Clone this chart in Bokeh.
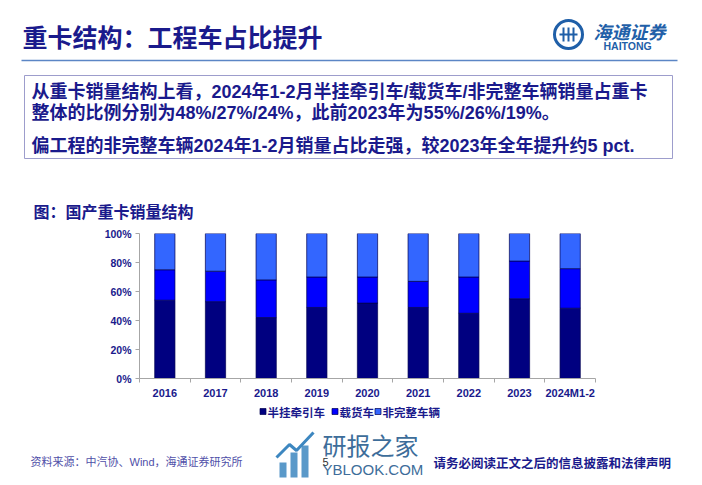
from bokeh.plotting import figure
from bokeh.models import (Range1d, LinearAxis, FixedTicker, PrintfTickFormatter, ColumnDataSource)
from bokeh.layouts import column
from bokeh.core.properties import value
from bokeh.embed import file_html
from bokeh.resources import INLINE

# ---------------- data ----------------
categories = ["2016", "2017", "2018", "2019", "2020", "2021", "2022", "2023", "2024M1-2"]
series_names = ["半挂牵引车", "载货车", "非完整车辆"]
tractor = [54, 53, 42, 49, 52, 49, 45, 55, 48]
cargo = [21, 21, 26, 21, 18, 18, 25, 26, 27]
incomplete = [25, 26, 32, 30, 30, 33, 30, 19, 24]
y_ticks = [0, 20, 40, 60, 80, 100]
bar_colors = ["#000080", "#0000FF", "#3366FF"]

title_text = "重卡结构：工程车占比提升"
box_lines = [
    "从重卡销量结构上看，2024年1-2月半挂牵引车/载货车/非完整车辆销量占重卡",
    "整体的比例分别为48%/27%/24%，此前2023年为55%/26%/19%。",
    "偏工程的非完整车辆2024年1-2月销量占比走强，较2023年全年提升约5 pct.",
]
caption_text = "图：国产重卡销量结构"
source_text = "资料来源：中汽协、Wind，海通证券研究所"
disclaimer_text = "请务必阅读正文之后的信息披露和法律声明"

NAVY = "#1a1a8c"
MIX = value("'Liberation Sans', 'Noto Sans CJK SC'")
CJK = value("'Noto Sans CJK SC'")
W = 700


def blank(h, top, bottom):
    p = figure(width=W, height=h, x_range=Range1d(0, W), y_range=Range1d(bottom, top),
               output_backend="svg", toolbar_location=None, min_border=0,
               x_axis_location=None, y_axis_location=None)
    p.grid.visible = False
    p.outline_line_color = None
    p.background_fill_color = "white"
    p.border_fill_color = "white"
    p.frame_align = False
    return p


# ---------------- header (page y 0..225) ----------------
top = blank(225, 0, 225)
top.text(x=[22], y=[35], text=[title_text], text_font=CJK, text_font_size="25px",
         text_font_style="bold", text_color=NAVY, text_baseline="middle")
# logo
top.scatter(x=[568], y=[34], size=28, marker="circle", fill_color=None,
            line_color="#1f5fa8", line_width=3)
top.segment(x0=[559, 563, 568, 573], y0=[34, 27, 27, 27], x1=[577, 563, 568, 573],
            y1=[34, 41, 41, 41], line_color="#1f5fa8", line_width=2)
top.text(x=[593], y=[30], text=["海通证券"], text_font=CJK, text_font_size="18px",
         text_font_style="bold italic", text_color="#1f5fa8", text_baseline="middle")
top.text(x=[603], y=[45], text=["HAITONG"], text_font=value("'Liberation Sans'"),
         text_font_size="10.5px", text_font_style="bold", text_color="#1f5fa8",
         text_baseline="middle")
top.segment(x0=[21], y0=[60], x1=[677], y1=[60], line_color="#5b86c5", line_width=1.5)
# text box
top.quad(left=[24], right=[672], top=[75], bottom=[158], fill_color=None,
         line_color="#9d9dcc", line_width=1)
top.text(x=[31, 31, 31], y=[91.5, 112, 145], text=box_lines, text_font=MIX,
         text_font_size="18px", text_font_style="bold", text_color=NAVY,
         text_baseline="middle")
top.text(x=[33], y=[210], text=[caption_text], text_font=CJK, text_font_size="16px",
         text_font_style="bold", text_color=NAVY, text_baseline="middle")

# ---------------- chart (page y 225..403) ----------------
n = len(categories)
centers = [i + 0.5 for i in range(n)]
totals = [a + b + c for a, b, c in zip(tractor, cargo, incomplete)]
src = ColumnDataSource(dict(
    x=centers,
    s0=[100.0 * v / t for v, t in zip(tractor, totals)],
    s1=[100.0 * v / t for v, t in zip(cargo, totals)],
    s2=[100.0 * v / t for v, t in zip(incomplete, totals)],
))

ch = figure(width=W, height=178, x_range=Range1d(0, n), y_range=Range1d(0, 100),
            output_backend="svg", toolbar_location=None, x_axis_location=None)
ch.min_border_left = 139
ch.min_border_right = 105
ch.min_border_top = 8
ch.min_border_bottom = 25
ch.outline_line_color = None
ch.grid.visible = False
ch.background_fill_color = "white"
ch.border_fill_color = "white"
ch.frame_align = False

renderers = ch.vbar_stack(["s0", "s1", "s2"], x="x", width=0.4, fill_color=bar_colors,
                          line_color="#000050", line_width=0.7, source=src)

yax = ch.yaxis[0]
yax.ticker = FixedTicker(ticks=y_ticks)
yax.formatter = PrintfTickFormatter(format="%d%%")
yax.axis_line_color = "#a6a6a6"
yax.major_tick_line_color = "#a6a6a6"
yax.major_tick_out = 4
yax.major_tick_in = 0
yax.minor_tick_line_color = None
yax.major_label_standoff = 4
yax.major_label_text_font = "'Liberation Sans'"
yax.major_label_text_font_style = "bold"
yax.major_label_text_font_size = "10.5px"
yax.major_label_text_color = NAVY

edge_axis = LinearAxis(ticker=FixedTicker(ticks=list(range(n + 1))),
                       axis_line_color="#a6a6a6", major_tick_line_color="#a6a6a6",
                       major_tick_out=4, major_tick_in=0, minor_tick_line_color=None,
                       major_label_text_font_size="1px", major_label_text_color=None,
                       major_label_standoff=0)
ch.add_layout(edge_axis, "below")
cat_axis = LinearAxis(ticker=FixedTicker(ticks=centers),
                      major_label_overrides={c: lab for c, lab in zip(centers, categories)},
                      axis_line_color=None, major_tick_line_color=None,
                      minor_tick_line_color=None,
                      major_tick_out=0, major_tick_in=0, major_label_standoff=4,
                      major_label_text_font="'Liberation Sans'",
                      major_label_text_font_style="bold",
                      major_label_text_font_size="11px",
                      major_label_text_color=NAVY)
ch.add_layout(cat_axis, "below")

# ---------------- footer (page y 403..483) ----------------
bot = blank(80, 403, 483)
# legend
legend_x = [260, 332, 375]
bot.scatter(x=[lx + 2.5 for lx in legend_x], y=[411] * 3, size=6, marker="square",
            fill_color=bar_colors, line_color="#000050", line_width=0.7)
bot.text(x=[lx + 7 for lx in legend_x], y=[411] * 3, text=series_names, text_font=CJK,
         text_font_size="11.5px", text_font_style="bold", text_color=NAVY,
         text_baseline="middle")
bot.text(x=[30], y=[461], text=[source_text], text_font=MIX, text_font_size="11px",
         text_color="#4f4fa8", text_baseline="middle")
# watermark
bot.quad(left=[279, 290, 301], right=[286, 297, 308], top=[462, 452, 445],
         bottom=[477, 477, 477], fill_color="#3d87c0", line_color=None, fill_alpha=0.85)
bot.line(x=[276, 289, 296, 313], y=[457, 444, 450, 432], line_color="#3d87c0", line_width=3)
bot.text(x=[322], y=[444], text=["研报之家"], text_font=CJK, text_font_size="24px",
         text_color="#3d6d9a", text_baseline="middle")
bot.text(x=[322], y=[469], text=["YBLOOK.COM"], text_font=value("'Liberation Sans'"),
         text_font_size="15px", text_color="#3d6d9a", text_baseline="middle")
bot.text(x=[322], y=[461], text=["5"], text_font=value("'Liberation Sans'"),
         text_font_size="11px", text_color="#333333", text_baseline="middle")
bot.text(x=[433], y=[462], text=[disclaimer_text], text_font=CJK, text_font_size="12.5px",
         text_font_style="bold", text_color=NAVY, text_baseline="middle")

layout = column(top, ch, bot, spacing=0)
open("out.html", "w").write(file_html(layout, INLINE))
